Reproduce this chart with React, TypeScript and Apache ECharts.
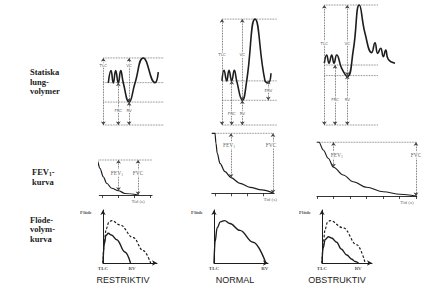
import React, { useEffect, useRef } from "react";
import * as echarts from "echarts";

// ---------------- DATA ----------------
const conditions = ["RESTRIKTIV", "NORMAL", "OBSTRUKTIV"];
const rowTitles = ["Statiska\nlung-\nvolymer", "FEV{s|1}-\nkurva", "Flöde-\nvolym-\nkurva"];

// Row 1: static lung volumes (litres)
const TLC = [3.8, 6.0, 6.8];
const FRC = [2.4, 2.5, 3.4];
const RV = [1.3, 1.4, 2.8];
// spirogram traces [time, volume]
const spiroRestriktiv = [[1.77, 2.38], [2.67, 3.08], [3.43, 2.38], [4.23, 3.08], [5.1, 2.38], [5.9, 3.08], [6.77, 2.38], [8.7, 1.3], [10.67, 2.38], [13.43, 3.8], [17.33, 2.4], [18.43, 3.0]];
const spiroNormal = [[0, 2.5], [0.67, 3.1], [1.57, 2.5], [2.33, 3.1], [3.23, 2.5], [4.1, 3.1], [4.9, 2.5], [6.77, 1.4], [8.23, 2.5], [11, 6.0], [14.33, 2.5], [15.43, 2.4], [16.33, 2.93]];
const spiroObstruktiv = [[0.1, 3.5], [0.9, 3.97], [1.67, 3.5], [2.57, 3.97], [3.33, 3.5], [4.23, 3.97], [5.9, 3.21], [7.77, 2.75], [9.77, 4.25], [11.77, 6.8], [13.67, 5.2], [15.9, 4.1], [17, 4.66], [17.9, 4.06], [18.9, 4.35], [19.77, 3.87], [20.57, 4.25], [21.43, 3.72], [23.67, 3.5]];
const spiro = [spiroRestriktiv, spiroNormal, spiroObstruktiv];

// Row 2: forced expiration [time s, volume left L]
const FVC = [2.8, 4.8, 4.3];
const FEV1 = [2.46, 3.55, 2.0];
const fvcTime = [2.22, 3.625, 6.0];
const fevRestriktiv = [[-0.59, 2.8], [-0.34, 2.8], [-0.16, 2.14], [0.05, 1.46], [0.26, 0.94], [0.575, 0.54], [1.0, 0.34], [1.41, 0.12], [2.22, 0]];
const fevNormal = [[-0.2, 4.8], [0, 4.8], [0.06, 4.0], [0.14, 3.2], [0.31, 2.4], [0.625, 1.73], [1.0, 1.25], [1.56, 0.8], [2.19, 0.48], [2.92, 0.27], [3.625, 0.03]];
const fevObstruktiv = [[-0.02, 4.3], [0.12, 4.3], [0.38, 3.68], [0.68, 3.02], [1.0, 2.3], [1.59, 1.68], [2.2, 1.14], [3.0, 0.7], [4.02, 0.34], [5.03, 0.14], [6.0, 0]];
const fev = [fevRestriktiv, fevNormal, fevObstruktiv];
const tidTicks = [[0, 1, 2, 3], [0, 1, 2, 3], [0, 1, 2, 3, 4, 5, 6]];

// Row 3: flow-volume loops [volume from TLC L, flow L/s]
const flowRestriktiv = [[0, 0], [0.12, 4.5], [0.28, 6.5], [0.5, 7.0], [0.8, 6.6], [1.3, 5.5], [2.07, 2.6], [2.6, 0]];
const flowRestriktivRef = [[0, 0], [0.1, 4.5], [0.3, 8.0], [0.55, 9.6], [0.82, 10], [1.6, 9.0], [2.86, 6.0], [3.8, 2.9], [4.5, 0]];
const flowNormal = [[0, 0], [0.1, 5], [0.3, 8.3], [0.6, 9.7], [1.0, 10], [1.5, 9.3], [2.45, 7.7], [3.7, 4.9], [4.9, 0]];
const flowObstruktiv = [[0, 0], [0.1, 3.5], [0.3, 5.5], [0.6, 6.2], [0.9, 5.9], [1.38, 4.9], [1.8, 3.3], [2.33, 1.9], [2.8, 0.9], [3.11, 0.35], [3.43, 0]];
const flowObstruktivRef = [[0, 0], [0.1, 4.5], [0.3, 8.0], [0.5, 9.5], [0.75, 10], [2.0, 8.3], [3.27, 4.3], [4.06, 0]];
const flowSolid = [flowRestriktiv, flowNormal, flowObstruktiv];
const flowRef = [flowRestriktivRef, null, flowObstruktivRef];

// ---------------- LAYOUT ----------------
const row1 = [
  { left: 103, width: 61.5, xMax: 20.5, lineX: [0.1, 20.1], tlcX: 0.1, vcX: 8.7, frcX: 5.1, topLab: 3.4, botLab: 0.85 },
  { left: 222, width: 57, xMax: 19, lineX: [0, 18.3], tlcX: 0, vcX: 6.77, frcX: 3.23, topLab: 3.97, botLab: 0.66 },
  { left: 324, width: 72, xMax: 24, lineX: [0.1, 18.1], tlcX: 0.1, vcX: 7.77, frcX: 3.67, topLab: 4.63, botLab: 1.42 },
];
const ervX = 15.43;
const row2 = [
  { left: 99.3, top: 132.5, width: 52.8, xMin: -0.2, xMax: 3.1, lineStart: -0.34, lineEnd: 3.1, labV: 1.76, fevLabX: 0.9, fvcLabX: 2.22, tidX: 2.22 },
  { left: 211.8, top: 130.8, width: 62.4, xMin: -0.2, xMax: 3.7, lineStart: 0, lineEnd: 3.625, labV: 3.86, fevLabX: 0.88, fvcLabX: 3.5, tidX: 3.45 },
  { left: 317, top: 133.5, width: 99.8, xMin: 0, xMax: 6.05, lineStart: 0.12, lineEnd: 6.0, labV: 3.28, fevLabX: 1.2, fvcLabX: 6.0, tidX: 5.45 },
];
const row3 = [
  { left: 103, width: 54, xMax: 5.1, rvX: 2.75 },
  { left: 214, width: 54, xMax: 5.1, rvX: 4.8 },
  { left: 322, width: 50, xMax: 4.7, rvX: 3.4 },
];
const row3Top = 210;
const row3Height = 53;
const titleX = [123, 235, 337];

const INK = "#1d1d1d";
const DOT = "#5c5c5c";
const SERIF = "'Liberation Serif', 'DejaVu Serif', serif";

function buildOption() {
  const grid: any[] = [];
  const xAxis: any[] = [];
  const yAxis: any[] = [];
  const series: any[] = [];

  const addLine = (gi: number, data: any[], extra: any = {}) =>
    series.push({
      type: "line", xAxisIndex: gi, yAxisIndex: gi, data, symbol: "none", silent: true, clip: false, z: 3,
      color: INK, lineStyle: { color: INK, width: 1.4 }, ...extra,
    });
  const dotted = (gi: number, data: any[]) =>
    addLine(gi, data, { z: 2, color: DOT, lineStyle: { color: DOT, width: 0.8, type: "dotted" } });
  const arrows = (segs: number[][]) => ({
    silent: true, symbol: ["arrow", "arrow"], symbolSize: 3.6, label: { show: false },
    lineStyle: { color: "#444", width: 0.8, type: "dotted" },
    emphasis: { disabled: true },
    data: segs.map(([x1, y1, x2, y2]) => [{ coord: [x1, y1] }, { coord: [x2, y2] }]),
  });
  const addText = (gi: number, items: any[], style: any) =>
    series.push({
      type: "scatter", xAxisIndex: gi, yAxisIndex: gi, silent: true, clip: false, z: 6,
      symbolSize: 1, color: "#333", itemStyle: { color: "transparent" },
      data: items.map(([x, y, t]) => ({ value: [x, y], name: t })),
      label: {
        show: true, position: "inside", align: "center", verticalAlign: "middle",
        textBorderWidth: 0, formatter: (p: any) => p.name, ...style,
      },
    });

  // Row 1
  row1.forEach((L, i) => {
    const gi = i;
    grid.push({ left: L.left, top: 5, width: L.width, height: 120 });
    xAxis.push({ type: "value", gridIndex: gi, min: 0, max: L.xMax, show: false });
    yAxis.push({ type: "value", gridIndex: gi, min: 0, max: 6.8, show: false });
    [TLC[i], FRC[i], RV[i], 0].forEach((v) => dotted(gi, [[L.lineX[0], v], [L.lineX[1], v]]));
    const segs = [
      [L.tlcX, 0, L.tlcX, TLC[i]],
      [L.vcX, RV[i], L.vcX, TLC[i]],
      [L.frcX, 0, L.frcX, FRC[i]],
      [L.vcX, 0, L.vcX, RV[i]],
    ];
    if (i === 1) segs.push([ervX, RV[i], ervX, FRC[i]]);
    addLine(gi, spiro[i], { smooth: 0.5, lineStyle: { color: INK, width: 1.6 }, markLine: arrows(segs) });
    const labs: any[] = [
      [L.tlcX, L.topLab, "TLC"], [L.vcX, L.topLab, "VC"],
      [L.frcX, L.botLab, "FRC"], [L.vcX, L.botLab, "RV"],
    ];
    if (i === 1) labs.push([ervX, 1.98, "ERV"]);
    addText(gi, labs, { fontSize: 4, fontFamily: "DejaVu Sans", color: "#333", backgroundColor: "#fff", padding: [0.5, 0.5] });
  });

  // Row 2
  row2.forEach((L, i) => {
    const gi = 3 + i;
    grid.push({ left: L.left, top: L.top, width: L.width, height: 62.5 });
    xAxis.push({
      type: "value", gridIndex: gi, min: L.xMin, max: L.xMax,
      axisLine: { show: true, lineStyle: { color: INK, width: 0.9 } },
      axisTick: { show: true, customValues: tidTicks[i], length: 3, lineStyle: { color: INK, width: 0.8 } },
      axisLabel: { show: false }, splitLine: { show: false },
    });
    yAxis.push({ type: "value", gridIndex: gi, min: 0, max: 5, show: false });
    dotted(gi, [[L.lineStart, FVC[i]], [L.lineEnd, FVC[i]]]);
    addLine(gi, fev[i], {
      smooth: 0.35, smoothMonotone: "x", lineStyle: { color: INK, width: 1.2 },
      markLine: arrows([
        [1, FVC[i] - FEV1[i], 1, FVC[i]],
        [fvcTime[i], 0, fvcTime[i], FVC[i]],
      ]),
    });
    addText(gi, [[L.fevLabX, L.labV, "FEV{s|1}"], [L.fvcLabX, L.labV, "FVC"]], {
      fontSize: 5.5, fontFamily: SERIF, color: "#333", backgroundColor: "#fff", padding: [0.5, 0.5],
      rich: { s: { fontSize: 3.8, fontFamily: SERIF, color: "#333", padding: [3, 0, 0, 0] } },
    });
    addText(gi, [[L.tidX, -0.5, "Tid (s)"]], { fontSize: 5, fontFamily: SERIF, color: "#333" });
  });

  // Row 3
  row3.forEach((L, i) => {
    const gi = 6 + i;
    grid.push({ left: L.left, top: row3Top, width: L.width, height: row3Height });
    const axisLine = { show: true, symbol: ["none", "arrow"], symbolSize: [4, 5], lineStyle: { color: INK, width: 1 } };
    xAxis.push({ type: "value", gridIndex: gi, min: 0, max: L.xMax, axisLine, axisTick: { show: false }, axisLabel: { show: false }, splitLine: { show: false } });
    yAxis.push({ type: "value", gridIndex: gi, min: 0, max: 12.5, axisLine, axisTick: { show: false }, axisLabel: { show: false }, splitLine: { show: false } });
    const ref = flowRef[i];
    if (ref) addLine(gi, ref, { smooth: 0.4, smoothMonotone: "x", lineStyle: { color: INK, width: 1.2, type: [2.5, 1.8] } });
    addLine(gi, flowSolid[i], { smooth: 0.4, smoothMonotone: "x", lineStyle: { color: INK, width: 1.4 } });
    addText(gi, [[-1.6, 12.0, "Flöde"]], { fontSize: 5, fontWeight: "bold", fontFamily: SERIF, color: "#222" });
    addText(gi, [[0, -1.2, "TLC"], [L.rvX, -1.2, "RV"]], { fontSize: 5, fontWeight: "bold", fontFamily: SERIF, color: "#222" });
  });

  const graphic: any[] = [
    { type: "text", x: 30, y: 67.5, silent: true, style: { text: rowTitles[0], fontSize: 8.5, fontWeight: "bold", fontFamily: SERIF, lineHeight: 9.5, fill: "#222" } },
    { type: "text", x: 32, y: 167, silent: true, style: { text: rowTitles[1], fontSize: 8.5, fontWeight: "bold", fontFamily: SERIF, lineHeight: 10, fill: "#222", rich: { s: { fontSize: 5.5, fontWeight: "bold", fontFamily: SERIF, fill: "#222", padding: [4, 0, 0, 0] } } } },
    { type: "text", x: 30, y: 215, silent: true, style: { text: rowTitles[2], fontSize: 8.5, fontWeight: "bold", fontFamily: SERIF, lineHeight: 9.5, fill: "#222" } },
    ...conditions.map((c, i) => ({
      type: "text", x: titleX[i], y: 279.5, silent: true,
      style: { text: c, fontSize: 9, fontFamily: "'Liberation Sans', Arial, sans-serif", fill: "#222", align: "center", verticalAlign: "middle" },
    })),
  ];

  return { animation: false, backgroundColor: "#ffffff", grid, xAxis, yAxis, series, graphic };
}

export default function App() {
  const ref = useRef<HTMLDivElement>(null);
  useEffect(() => {
    const chart = echarts.init(ref.current!, null, { renderer: "svg" });
    chart.setOption(buildOption());
    return () => chart.dispose();
  }, []);
  return <div ref={ref} style={{ width: 433, height: 285, position: "absolute", left: 0, top: 0 }} />;
}
